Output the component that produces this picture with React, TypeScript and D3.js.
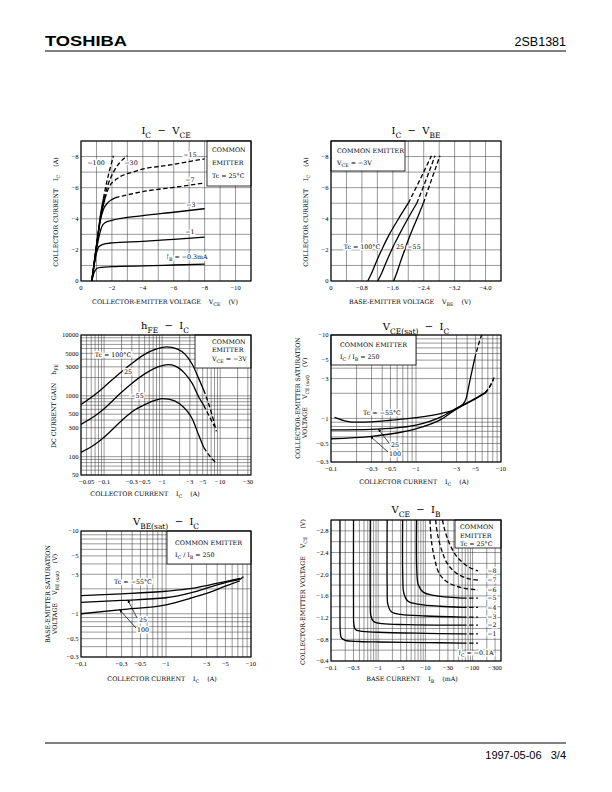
import React from "react";
import * as d3 from "d3";

type Pt = [number, number];
type Frame = { l: number; t: number; r: number; b: number };

const SERIF = "'DejaVu Serif', 'Liberation Serif', serif";
const TICKF = "'Liberation Serif', 'DejaVu Serif', serif";
const SANS = "'Liberation Sans', 'DejaVu Sans', sans-serif";

/* ---------------- 1. IC – VCE ---------------- */
const c1XTicks = [0, 2, 4, 6, 8, 10];
const c1XLabels = ["0", "−2", "−4", "−6", "−8", "−10"];
const c1YTicks = [0, 2, 4, 6, 8];
const c1YLabels = ["0", "−2", "−4", "−6", "−8"];
const ib03: Pt[] = [[0.7, 0], [0.8, 0.4], [0.9, 0.65], [1.05, 0.82], [1.3, 0.88], [2, 0.92], [4, 0.97], [6, 1.03], [8, 1.09]];
const ib1: Pt[] = [[0.7, 0], [0.85, 1.0], [1.0, 1.8], [1.15, 2.2], [1.4, 2.35], [2, 2.45], [4, 2.55], [6, 2.68], [8, 2.82]];
const ib3: Pt[] = [[0.7, 0], [1.0, 2.0], [1.2, 3.0], [1.35, 3.5], [1.55, 3.75], [2, 3.9], [4, 4.2], [6, 4.42], [8, 4.65]];
const ib7Solid: Pt[] = [[0.7, 0], [1.0, 2.2], [1.25, 3.9], [1.45, 4.6], [1.75, 5.05], [2.2, 5.35]];
const ib7Dash: Pt[] = [[2.2, 5.35], [4, 5.75], [6, 6.02], [8, 6.3]];
const ib15Solid: Pt[] = [[0.7, 0], [1.0, 2.3], [1.3, 4.2], [1.55, 5.3]];
const ib15Dash: Pt[] = [[1.55, 5.3], [1.8, 6.0], [2.3, 6.55], [3.5, 7.05], [6, 7.5], [8, 7.85]];
const ib30Solid: Pt[] = [[0.7, 0], [1.02, 2.4], [1.3, 4.4], [1.5, 5.3]];
const ib30Dash: Pt[] = [[1.5, 5.3], [1.75, 6.2], [2.1, 7.0], [2.5, 7.6], [3.0, 8.05]];
const ib100Solid: Pt[] = [[0.7, 0], [1.05, 2.6], [1.3, 4.5], [1.45, 5.3]];
const ib100Dash: Pt[] = [[1.45, 5.3], [1.65, 6.3], [1.9, 7.3], [2.1, 8.05]];

/* ---------------- 2. IC – VBE ---------------- */
const c2XTicks = [0, 0.8, 1.6, 2.4, 3.2, 4.0];
const c2XLabels = ["0", "−0.8", "−1.6", "−2.4", "−3.2", "−4.0"];
const vbe100Solid: Pt[] = [[0.95, 0], [1.05, 0.5], [1.15, 1.1], [1.3, 1.95], [1.5, 2.95], [1.74, 3.97], [2.0, 5.0]];
const vbe100Dash: Pt[] = [[2.0, 5.0], [2.3, 6.5], [2.6, 8.05]];
const vbe25Solid: Pt[] = [[1.21, 0], [1.31, 0.5], [1.41, 1.1], [1.56, 1.95], [1.76, 2.95], [1.98, 3.97], [2.22, 5.0]];
const vbe25Dash: Pt[] = [[2.22, 5.0], [2.46, 6.5], [2.69, 8.05]];
const vbeM55Solid: Pt[] = [[1.62, 0], [1.7, 0.5], [1.78, 1.1], [1.9, 1.95], [2.05, 2.95], [2.22, 3.97], [2.39, 5.0]];
const vbeM55Dash: Pt[] = [[2.39, 5.0], [2.6, 6.5], [2.82, 8.05]];

/* ---------------- 3. hFE – IC ---------------- */
const c3XTicks = [0.05, 0.1, 0.3, 0.5, 1, 3, 5, 10, 30];
const c3XLabels = ["−0.05", "−0.1", "−0.3", "−0.5", "−1", "−3", "−5", "−10", "−30"];
const c3YTicks = [10000, 5000, 3000, 1000, 500, 300, 100, 50];
const c3YLabels = ["10000", "5000", "3000", "1000", "500", "300", "100", "50"];
const hfe100Solid: Pt[] = [[0.04, 720], [0.07, 1050], [0.1, 1400], [0.2, 2500], [0.3, 3400], [0.5, 4800], [0.8, 5900], [1.2, 6400], [1.8, 5900], [2.5, 4800], [3.3, 3300], [4.3, 1900], [5.2, 1250]];
const hfe100Dash: Pt[] = [[5.2, 1250], [6.8, 600], [8.6, 260]];
const hfe25Solid: Pt[] = [[0.04, 340], [0.07, 470], [0.1, 615], [0.2, 1150], [0.3, 1600], [0.5, 2300], [1, 3150], [1.3, 3250], [2, 2800], [2.5, 2300], [3.3, 1600], [4.3, 950], [5.2, 700]];
const hfe25Dash: Pt[] = [[5.2, 700], [6.6, 450], [8.0, 310]];
const hfeM55Solid: Pt[] = [[0.04, 118], [0.07, 160], [0.1, 209], [0.2, 390], [0.3, 542], [0.5, 717], [0.8, 860], [1, 900], [1.3, 880], [2, 740], [3.3, 420], [4.3, 222], [5.2, 142]];
const hfeM55Dash: Pt[] = [[5.2, 142], [6.5, 105], [8.3, 81]];

/* ---------------- 4. VCE(sat) – IC ---------------- */
const satXTicks = [0.1, 0.3, 0.5, 1, 3, 5, 10];
const satXLabels = ["−0.1", "−0.3", "−0.5", "−1", "−3", "−5", "−10"];
const satYTicks = [10, 5, 3, 1, 0.5, 0.3];
const satYLabels = ["−10", "−5", "−3", "−1", "−0.5", "−0.3"];
const vcesM55Solid: Pt[] = [[0.11, 1.03], [0.15, 0.93], [0.2, 0.9], [0.3, 0.91], [0.5, 0.95], [1, 1.02], [2, 1.15], [3, 1.3], [3.5, 1.45], [3.9, 1.75], [4.2, 2.5], [4.5, 3.5], [4.9, 5.2]];
const vcesM55Dash: Pt[] = [[4.9, 5.2], [5.4, 7.5], [5.9, 10]];
const vces25Solid: Pt[] = [[0.1, 0.73], [0.3, 0.74], [0.5, 0.76], [1, 0.83], [2, 1.05], [3, 1.33], [4.7, 1.68], [6.5, 2.04]];
const vces25Dash: Pt[] = [[6.5, 2.04], [7.5, 2.5], [8.3, 3.1]];
const vces100Solid: Pt[] = [[0.1, 0.57], [0.3, 0.61], [0.5, 0.65], [1, 0.75], [2, 0.98], [3, 1.3], [4.7, 1.65], [6.5, 2.0]];
const vces100Dash: Pt[] = [[6.5, 2.0], [7.4, 2.4], [8.1, 2.9]];

/* ---------------- 5. VBE(sat) – IC ---------------- */
const vbesM55: Pt[] = [[0.1, 1.66], [0.3, 1.74], [1, 1.87], [2, 2.02], [3, 2.19], [5, 2.45], [7.4, 2.67]];
const vbes25: Pt[] = [[0.1, 1.37], [0.3, 1.45], [1, 1.56], [2, 1.8], [3, 2.04], [5, 2.38], [7.4, 2.6]];
const vbes100: Pt[] = [[0.1, 1.0], [0.3, 1.12], [1, 1.28], [2, 1.55], [3, 1.76], [5, 2.15], [7.4, 2.5]];
const vbesTip: Pt[] = [[7.4, 2.6], [8.3, 2.85]];

/* ---------------- 6. VCE – IB ---------------- */
const c6XTicks = [0.1, 0.3, 1, 3, 10, 30, 100, 300];
const c6XLabels = ["−0.1", "−0.3", "−1", "−3", "−10", "−30", "−100", "−300"];
const c6YTicks = [0.4, 0.8, 1.2, 1.6, 2.0, 2.4, 2.8];
const c6YLabels = ["−0.4", "−0.8", "−1.2", "−1.6", "−2.0", "−2.4", "−2.8"];
const ic01Solid: Pt[] = [[0.155, 3.0], [0.155, 1.3], [0.157, 0.95], [0.165, 0.83], [0.2, 0.78], [0.4, 0.76], [1, 0.75], [10, 0.74], [60, 0.73]];
const ic1Solid: Pt[] = [[0.3, 3.0], [0.3, 1.35], [0.305, 1.08], [0.33, 0.98], [0.42, 0.95], [1, 0.93], [10, 0.91], [60, 0.9]];
const ic2Solid: Pt[] = [[0.68, 3.0], [0.68, 1.5], [0.7, 1.23], [0.8, 1.13], [1.2, 1.09], [4, 1.07], [60, 1.06]];
const ic3Solid: Pt[] = [[1.55, 3.0], [1.55, 1.75], [1.6, 1.45], [1.9, 1.31], [3, 1.26], [10, 1.23], [60, 1.21]];
const ic4Solid: Pt[] = [[3.3, 3.0], [3.32, 1.95], [3.5, 1.65], [4.3, 1.5], [8, 1.44], [20, 1.41], [60, 1.39]];
const ic5Solid: Pt[] = [[6.5, 3.0], [6.55, 2.1], [7.1, 1.8], [9, 1.67], [15, 1.61], [60, 1.56]];
const ic6Dash: Pt[] = [[12.5, 3.0], [13.5, 2.6], [16, 2.25], [20, 2.0], [30, 1.85], [60, 1.75], [130, 1.71]];
const ic7Dash: Pt[] = [[16.5, 3.0], [18, 2.75], [22, 2.45], [29, 2.2], [45, 2.02], [80, 1.92], [130, 1.89]];
const ic8Dash: Pt[] = [[23, 3.0], [26, 2.8], [33, 2.55], [47, 2.32], [80, 2.14], [130, 2.06]];
const c6SolidCurves = [ic01Solid, ic1Solid, ic2Solid, ic3Solid, ic4Solid, ic5Solid];
const c6SolidNames = ["", "−1", "−2", "−3", "−4", "−5"];
const c6DashCurves = [ic6Dash, ic7Dash, ic8Dash];
const c6DashNames = ["−6", "−7", "−8"];
const c6TailEnd = 130;

/* ---------------- helpers ---------------- */
type Seg = { t: string; sub?: boolean };
function parse(s: string): Seg[] {
  const out: Seg[] = [];
  const re = /_\{([^}]*)\}/g;
  let last = 0;
  let m: RegExpExecArray | null;
  while ((m = re.exec(s))) {
    if (m.index > last) out.push({ t: s.slice(last, m.index) });
    out.push({ t: m[1], sub: true });
    last = re.lastIndex;
  }
  if (last < s.length) out.push({ t: s.slice(last) });
  return out;
}

function T(props: {
  x: number; y: number; s: string; size?: number; anchor?: string; rot?: boolean; halo?: boolean;
  family?: string; weight?: string;
}) {
  const { x, y, s, size = 6.3, anchor = "start", rot = false, halo = false, family = SERIF, weight } = props;
  let shift = 0;
  const segs = parse(s);
  const kids = segs.map((g, i) => {
    const target = g.sub ? size * 0.38 : 0;
    const dy = target - shift;
    shift = target;
    return (
      <tspan key={i} dy={dy !== 0 ? dy : undefined} fontSize={g.sub ? size * 0.75 : size}>
        {g.t}
      </tspan>
    );
  });
  return (
    <text
      x={x}
      y={y}
      textAnchor={anchor as any}
      fontFamily={family}
      fontWeight={weight}
      fontSize={size}
      fill="#000"
      stroke={halo ? "#fff" : undefined}
      strokeWidth={halo ? 3 : undefined}
      paintOrder={halo ? "stroke" : undefined}
      transform={rot ? `rotate(-90 ${x} ${y})` : undefined}
      style={{ whiteSpace: "pre" }}
    >
      {kids}
    </text>
  );
}

function Curve({ pts, x, y, dashed = false, curve }: { pts: Pt[]; x: any; y: any; dashed?: boolean; curve?: any }) {
  const d = d3
    .line<Pt>()
    .x((p) => x(p[0]))
    .y((p) => y(p[1]))
    .curve(curve ?? d3.curveMonotoneX)(pts);
  return (
    <path d={d ?? ""} fill="none" stroke="#000" strokeWidth={1.3} strokeDasharray={dashed ? "4.5 2.5" : undefined} />
  );
}

function Panel(props: {
  f: Frame; x: any; y: any; gx: number[]; gy: number[];
  xt: number[]; xl: string[]; yt: number[]; yl: string[];
  legend?: Frame; children?: React.ReactNode;
}) {
  const { f, x, y, gx, gy, xt, xl, yt, yl, legend, children } = props;
  return (
    <g>
      {gx.map((v, i) => (
        <line key={"gx" + i} x1={x(v)} x2={x(v)} y1={f.t} y2={f.b} stroke="#333" strokeWidth={0.5} />
      ))}
      {gy.map((v, i) => (
        <line key={"gy" + i} x1={f.l} x2={f.r} y1={y(v)} y2={y(v)} stroke="#333" strokeWidth={0.5} />
      ))}
      {legend && (
        <rect x={legend.l} y={legend.t} width={legend.r - legend.l} height={legend.b - legend.t} fill="#fff" stroke="#000" strokeWidth={0.8} />
      )}
      {children}
      <rect x={f.l} y={f.t} width={f.r - f.l} height={f.b - f.t} fill="none" stroke="#000" strokeWidth={1.1} />
      {xt.map((v, i) => (
        <text key={"xt" + i} x={x(v)} y={f.b + 8.5} textAnchor="middle" fontFamily={TICKF} fontSize={6.6}>
          {xl[i]}
        </text>
      ))}
      {yt.map((v, i) => (
        <text key={"yt" + i} x={f.l - 2.5} y={y(v) + 2.3} textAnchor="end" fontFamily={TICKF} fontSize={6.6}>
          {yl[i]}
        </text>
      ))}
    </g>
  );
}

function Arrow({ x0, y0, x1, y1 }: { x0: number; y0: number; x1: number; y1: number }) {
  return <line x1={x0} y1={y0} x2={x1} y2={y1} stroke="#000" strokeWidth={0.7} markerEnd="url(#ah)" />;
}

export default function App() {
  /* frames */
  const f1: Frame = { l: 81, t: 141, r: 251, b: 281 };
  const f2: Frame = { l: 331, t: 141, r: 501, b: 281 };
  const f3: Frame = { l: 81, t: 335, r: 251, b: 475 };
  const f4: Frame = { l: 331, t: 335, r: 501, b: 462 };
  const f5: Frame = { l: 81, t: 531, r: 251, b: 657 };
  const f6: Frame = { l: 331, t: 520, r: 501, b: 661 };

  /* scales */
  const x1 = d3.scaleLinear().domain([0, 11]).range([f1.l, f1.r]);
  const y1 = d3.scaleLinear().domain([0, 9]).range([f1.b, f1.t]);
  const x2 = d3.scaleLinear().domain([0, 4.4]).range([f2.l, f2.r]);
  const y2 = d3.scaleLinear().domain([0, 9]).range([f2.b, f2.t]);
  const x3 = d3.scaleLog().domain([0.04, 34]).range([f3.l, f3.r]);
  const y3 = d3.scaleLog().domain([50, 10000]).range([f3.b, f3.t]);
  const x4 = d3.scaleLog().domain([0.1, 10]).range([f4.l, f4.r]);
  const y4 = d3.scaleLog().domain([0.3, 10]).range([f4.b, f4.t]);
  const x5 = d3.scaleLog().domain([0.1, 10]).range([f5.l, f5.r]);
  const y5 = d3.scaleLog().domain([0.3, 10]).range([f5.b, f5.t]);
  const x6 = d3.scaleLog().domain([0.1, 400]).range([f6.l, f6.r]);
  const y6 = d3.scaleLinear().domain([0.4, 3.0]).range([f6.b, f6.t]);

  const gx1 = d3.range(0, 12);
  const gy1 = d3.range(0, 10);
  const gx2 = d3.range(0, 12).map((i) => i * 0.4);
  const gy6 = d3.range(0, 14).map((i) => 0.4 + i * 0.2);
  const cr = d3.curveCatmullRom.alpha(0.5);

  return (
    <svg width={612} height={792} style={{ position: "absolute", left: 0, top: 0, background: "#fff" }}>
      <defs>
        <marker id="ah" viewBox="0 0 10 10" refX="9" refY="5" markerWidth="5" markerHeight="5" orient="auto">
          <path d="M0,1 L10,5 L0,9 z" fill="#000" />
        </marker>
      </defs>
      <rect x={0} y={0} width={612} height={792} fill="#fff" />

      {/* header */}
      <text x={45} y={46} fontFamily={SANS} fontWeight="bold" fontSize={15} textLength={82} lengthAdjust="spacingAndGlyphs">
        TOSHIBA
      </text>
      <text x={566} y={46} textAnchor="end" fontFamily={SANS} fontSize={12.5}>
        2SB1381
      </text>
      <line x1={45} x2={566} y1={51} y2={51} stroke="#000" strokeWidth={1} />

      {/* footer */}
      <line x1={45} x2={566} y1={743} y2={743} stroke="#000" strokeWidth={1} />
      <text x={566} y={759} textAnchor="end" fontFamily={SANS} fontSize={11} style={{ whiteSpace: "pre" }}>
        1997-05-06   3/4
      </text>

      {/* ===== Chart 1 ===== */}
      <T x={166} y={134} s={"I_{C}  −  V_{CE}"} size={10} anchor="middle" />
      <Panel f={f1} x={x1} y={y1} gx={gx1} gy={gy1} xt={c1XTicks} xl={c1XLabels} yt={c1YTicks} yl={c1YLabels}
        legend={{ l: 207, t: f1.t, r: f1.r, b: 186 }}>
        <Curve pts={ib03} x={x1} y={y1} />
        <Curve pts={ib1} x={x1} y={y1} />
        <Curve pts={ib3} x={x1} y={y1} />
        <Curve pts={ib7Solid} x={x1} y={y1} />
        <Curve pts={ib7Dash} x={x1} y={y1} dashed />
        <Curve pts={ib15Solid} x={x1} y={y1} />
        <Curve pts={ib15Dash} x={x1} y={y1} dashed />
        <Curve pts={ib30Solid} x={x1} y={y1} />
        <Curve pts={ib30Dash} x={x1} y={y1} dashed />
        <Curve pts={ib100Solid} x={x1} y={y1} />
        <Curve pts={ib100Dash} x={x1} y={y1} dashed />
        <T x={96} y={165} s="−100" anchor="middle" halo />
        <T x={131} y={165} s="−30" anchor="middle" halo />
        <T x={190} y={156.5} s="−15" anchor="middle" halo />
        <T x={190} y={181.5} s="−7" anchor="middle" halo />
        <T x={191} y={207} s="−3" anchor="middle" halo />
        <T x={190} y={234} s="−1" anchor="middle" halo />
        <T x={187} y={259} s={"I_{B} = −0.3mA"} anchor="middle" halo />
        <T x={212} y={152} s="COMMON" />
        <T x={212} y={165} s="EMITTER" />
        <T x={212} y={178} s="Tc = 25°C" />
      </Panel>
      <T x={165} y={304} s={"COLLECTOR-EMITTER VOLTAGE    V_{CE}    (V)"} anchor="middle" />
      <T x={58} y={212} s={"COLLECTOR CURRENT    I_{C}    (A)"} anchor="middle" rot />

      {/* ===== Chart 2 ===== */}
      <T x={416} y={134} s={"I_{C}  −  V_{BE}"} size={10} anchor="middle" />
      <Panel f={f2} x={x2} y={y2} gx={gx2} gy={gy1} xt={c2XTicks} xl={c2XLabels} yt={c1YTicks} yl={c1YLabels}
        legend={{ l: f2.l, t: f2.t, r: 405, b: 171 }}>
        <Curve pts={vbe100Solid} x={x2} y={y2} />
        <Curve pts={vbe100Dash} x={x2} y={y2} dashed />
        <Curve pts={vbe25Solid} x={x2} y={y2} />
        <Curve pts={vbe25Dash} x={x2} y={y2} dashed />
        <Curve pts={vbeM55Solid} x={x2} y={y2} />
        <Curve pts={vbeM55Dash} x={x2} y={y2} dashed />
        <T x={362} y={249} s="Tc = 100°C" anchor="middle" halo />
        <T x={400} y={249} s="25" anchor="middle" halo />
        <T x={414} y={249} s="−55" anchor="middle" halo />
        <T x={337} y={153} s="COMMON EMITTER" />
        <T x={337} y={165} s={"V_{CE} = −3V"} />
      </Panel>
      <T x={410} y={304} s={"BASE-EMITTER VOLTAGE    V_{BE}    (V)"} anchor="middle" />
      <T x={308} y={212} s={"COLLECTOR CURRENT    I_{C}    (A)"} anchor="middle" rot />

      {/* ===== Chart 3 ===== */}
      <T x={165} y={329} s={"h_{FE}  −  I_{C}"} size={10} anchor="middle" />
      <Panel f={f3} x={x3} y={y3} gx={x3.ticks()} gy={y3.ticks()} xt={c3XTicks} xl={c3XLabels} yt={c3YTicks} yl={c3YLabels}
        legend={{ l: 195, t: f3.t, r: f3.r, b: 368 }}>
        <Curve pts={hfe100Solid} x={x3} y={y3} />
        <Curve pts={hfe100Dash} x={x3} y={y3} dashed />
        <Curve pts={hfe25Solid} x={x3} y={y3} />
        <Curve pts={hfe25Dash} x={x3} y={y3} dashed />
        <Curve pts={hfeM55Solid} x={x3} y={y3} />
        <Curve pts={hfeM55Dash} x={x3} y={y3} dashed />
        <T x={113} y={357} s="Tc = 100°C" anchor="middle" halo />
        <T x={128} y={374} s="25" anchor="middle" halo />
        <T x={137} y={398} s="−55" anchor="middle" halo />
        <T x={212} y={343.5} s="COMMON" />
        <T x={212} y={352} s="EMITTER" />
        <T x={212} y={361} s={"V_{CE} = −3V"} />
      </Panel>
      <T x={145} y={496} s={"COLLECTOR CURRENT    I_{C}    (A)"} anchor="middle" />
      <T x={56} y={406} s={"DC CURRENT GAIN    h_{FE}"} anchor="middle" rot />

      {/* ===== Chart 4 ===== */}
      <T x={416} y={330} s={"V_{CE(sat)}  −  I_{C}"} size={10} anchor="middle" />
      <Panel f={f4} x={x4} y={y4} gx={x4.ticks()} gy={y4.ticks()} xt={satXTicks} xl={satXLabels} yt={satYTicks} yl={satYLabels}
        legend={{ l: f4.l, t: f4.t, r: 416, b: 365 }}>
        <Curve pts={vcesM55Solid} x={x4} y={y4} />
        <Curve pts={vcesM55Dash} x={x4} y={y4} dashed />
        <Curve pts={vces25Solid} x={x4} y={y4} />
        <Curve pts={vces25Dash} x={x4} y={y4} dashed />
        <Curve pts={vces100Solid} x={x4} y={y4} />
        <Curve pts={vces100Dash} x={x4} y={y4} dashed />
        <T x={382} y={414.5} s="Tc = −55°C" anchor="middle" halo />
        <T x={395} y={447} s="25" anchor="middle" halo />
        <T x={395} y={455.5} s="100" anchor="middle" halo />
        <Arrow x0={389} y0={443} x1={x4(0.36)} y1={y4(0.745)} />
        <Arrow x0={388} y0={452} x1={x4(0.29)} y1={y4(0.61)} />
        <T x={340} y={346.5} s="COMMON EMITTER" />
        <T x={340} y={359} s={"I_{C} / I_{B} = 250"} />
      </Panel>
      <T x={414} y={484} s={"COLLECTOR CURRENT    I_{C}    (A)"} anchor="middle" />
      <T x={299.5} y={398} s={"COLLECTOR-EMITTER SATURATION"} anchor="middle" rot />
      <T x={306.5} y={398} s={"VOLTAGE    V_{CE (sat)}    (V)"} anchor="middle" rot />

      {/* ===== Chart 5 ===== */}
      <T x={166} y={525} s={"V_{BE(sat)}  −  I_{C}"} size={10} anchor="middle" />
      <Panel f={f5} x={x5} y={y5} gx={x5.ticks()} gy={y5.ticks()} xt={satXTicks} xl={satXLabels} yt={satYTicks} yl={satYLabels}
        legend={{ l: 167, t: f5.t, r: f5.r, b: 564 }}>
        <Curve pts={vbesM55} x={x5} y={y5} />
        <Curve pts={vbes25} x={x5} y={y5} />
        <Curve pts={vbes100} x={x5} y={y5} />
        <Curve pts={vbesTip} x={x5} y={y5} dashed />
        <T x={133} y={584} s="Tc = −55°C" anchor="middle" halo />
        <T x={143} y={622} s="25" anchor="middle" halo />
        <T x={143} y={631.5} s="100" anchor="middle" halo />
        <Arrow x0={137} y0={618} x1={x5(0.355)} y1={y5(1.47)} />
        <Arrow x0={136} y0={628} x1={x5(0.284)} y1={y5(1.12)} />
        <T x={175} y={545} s="COMMON EMITTER" />
        <T x={175} y={557} s={"I_{C} / I_{B} = 250"} />
      </Panel>
      <T x={162} y={681} s={"COLLECTOR CURRENT    I_{C}    (A)"} anchor="middle" />
      <T x={49.5} y={594} s={"BASE-EMITTER SATURATION"} anchor="middle" rot />
      <T x={56.5} y={594} s={"VOLTAGE    V_{BE (sat)}    (V)"} anchor="middle" rot />

      {/* ===== Chart 6 ===== */}
      <T x={416} y={513} s={"V_{CE}  −  I_{B}"} size={10} anchor="middle" />
      <Panel f={f6} x={x6} y={y6} gx={x6.ticks()} gy={gy6} xt={c6XTicks} xl={c6XLabels} yt={c6YTicks} yl={c6YLabels}
        legend={{ l: 455, t: f6.t, r: f6.r, b: 548 }}>
        {c6SolidCurves.map((c, i) => (
          <g key={"s" + i}>
            <Curve pts={c} x={x6} y={y6} curve={cr} />
            <Curve pts={[c[c.length - 1], [c6TailEnd, c[c.length - 1][1]]]} x={x6} y={y6} dashed />
          </g>
        ))}
        {c6DashCurves.map((c, i) => (
          <Curve key={"d" + i} pts={c} x={x6} y={y6} dashed curve={cr} />
        ))}
        {c6SolidCurves.map((c, i) =>
          c6SolidNames[i] ? (
            <T key={"sl" + i} x={492} y={y6(c[c.length - 1][1]) + 2.2} s={c6SolidNames[i]} anchor="middle" halo />
          ) : null
        )}
        {c6DashCurves.map((c, i) => (
          <T key={"dl" + i} x={492} y={y6(c[c.length - 1][1]) + 2.2} s={c6DashNames[i]} anchor="middle" halo />
        ))}
        <T x={476} y={655} s={"I_{C} = −0.1A"} anchor="middle" halo />
        <T x={460} y={529} s="COMMON" />
        <T x={460} y={537.5} s="EMITTER" />
        <T x={460} y={546} s="Tc = 25°C" />
      </Panel>
      <T x={412} y={681} s={"BASE CURRENT    I_{B}    (mA)"} anchor="middle" />
      <T x={305} y={592} s={"COLLECTOR-EMITTER VOLTAGE    V_{CE}    (V)"} anchor="middle" rot />
    </svg>
  );
}
